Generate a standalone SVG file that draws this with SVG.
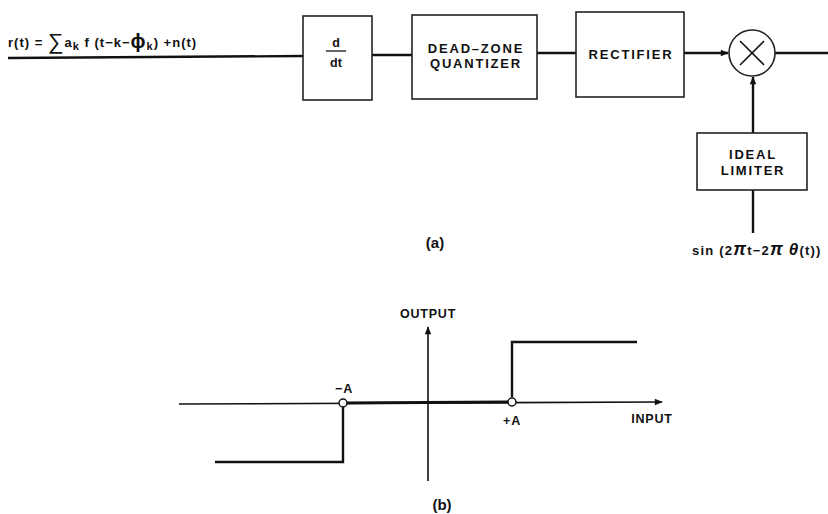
<svg xmlns="http://www.w3.org/2000/svg" width="828" height="514" viewBox="0 0 828 514">
<style>
text{font-family:"Liberation Sans",Arial,sans-serif;fill:#111;font-weight:bold}
.box{fill:#fff;stroke:#222;stroke-width:1.6}
.ln{stroke:#111;stroke-width:2.4;fill:none}
.thin{stroke:#111;stroke-width:1.6;fill:none}
.lbl{font-size:13px;letter-spacing:1.8px;text-anchor:middle}
.gl{font-size:12.5px;letter-spacing:0.8px;text-anchor:middle}
</style>
<defs>
<marker id="ah2" viewBox="0 0 10 10" refX="9" refY="5" markerWidth="10" markerHeight="8" orient="auto" markerUnits="userSpaceOnUse">
<path d="M0,1 L10,5 L0,9 Z" fill="#111"/>
</marker>
</defs>

<g id="connectors">
<line class="ln" x1="8" y1="58" x2="303" y2="56"/>
<line class="ln" x1="372" y1="55" x2="412" y2="55"/>
<line class="ln" x1="537" y1="53" x2="576" y2="53"/>
<line class="ln" x1="684" y1="53" x2="728" y2="53" marker-end="url(#ah2)"/>
<line class="ln" x1="775" y1="53" x2="828" y2="53"/>
<line class="ln" x1="753" y1="133" x2="753" y2="77" marker-end="url(#ah2)"/>
<line class="ln" x1="753" y1="233" x2="753" y2="190"/>
</g>

<g id="input-label">
<text x="8" y="47" font-size="13" letter-spacing="1">r(t) = <tspan font-size="22" font-weight="normal" dy="2">∑</tspan><tspan dy="-2">a</tspan><tspan font-size="11" dy="3">k</tspan><tspan dy="-3"> f (t−k−</tspan><tspan font-size="20" dy="1">ϕ</tspan><tspan font-size="11" dy="2">k</tspan><tspan dy="-3">) +n(t)</tspan></text>
</g>

<g id="diff">
<rect class="box" x="303" y="16" width="69" height="84"/>
<text x="336" y="47" font-size="12.5" text-anchor="middle">d</text>
<line x1="326" y1="51" x2="346" y2="51" stroke="#111" stroke-width="1.3"/>
<text x="336" y="67" font-size="12.5" text-anchor="middle">dt</text>
</g>

<g id="deadzone">
<rect class="box" x="412" y="15" width="125" height="84"/>
<text class="lbl" x="476" y="53">DEAD–ZONE</text>
<text class="lbl" x="476" y="68">QUANTIZER</text>
</g>

<g id="rectifier">
<rect class="box" x="576" y="12" width="108" height="85"/>
<text class="lbl" x="631" y="59">RECTIFIER</text>
</g>

<g id="multiplier">
<circle cx="752" cy="53" r="23" fill="#fff" stroke="#222" stroke-width="1.6"/>
<line class="thin" x1="740" y1="41" x2="764" y2="65"/>
<line class="thin" x1="764" y1="41" x2="740" y2="65"/>
</g>

<g id="limiter">
<rect class="box" x="697" y="133" width="110" height="57"/>
<text class="lbl" x="753" y="159">IDEAL</text>
<text class="lbl" x="753" y="175">LIMITER</text>
</g>

<g id="ref-label">
<text x="692" y="255" font-size="13" letter-spacing="1.2">sin (2<tspan font-size="18" font-style="italic">π</tspan>t−2<tspan font-size="18" font-style="italic">π</tspan> <tspan font-size="17" font-style="italic">θ</tspan>(t))</text>
</g>

<text x="435" y="248" font-size="15" text-anchor="middle">(a)</text>

<g id="graph-b">
<line class="thin" x1="428" y1="481" x2="428" y2="327" marker-end="url(#ah2)"/>
<line x1="179" y1="404" x2="662" y2="402" stroke="#111" stroke-width="1.6" marker-end="url(#ah2)"/>
<line x1="343" y1="403" x2="508" y2="402" stroke="#111" stroke-width="3"/>
<polyline class="ln" points="215,462 343,462 343,407"/>
<polyline class="ln" points="512,397 512,342 637,342"/>
<circle cx="343" cy="403" r="4" fill="#fff" stroke="#111" stroke-width="1.5"/>
<circle cx="512" cy="402" r="4" fill="#fff" stroke="#111" stroke-width="1.5"/>
<text class="gl" x="428" y="318">OUTPUT</text>
<text class="gl" x="652" y="423">INPUT</text>
<text class="gl" x="344" y="393">−A</text>
<text class="gl" x="512" y="425">+A</text>
</g>

<text x="442" y="510" font-size="15" text-anchor="middle">(b)</text>
</svg>
